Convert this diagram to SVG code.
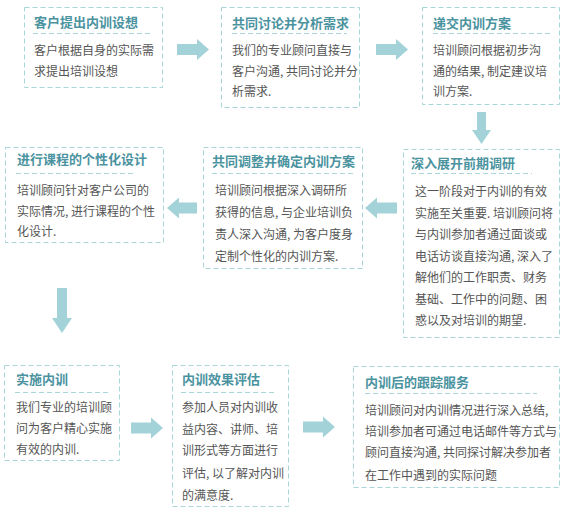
<svg xmlns="http://www.w3.org/2000/svg" width="562" height="510" viewBox="0 0 562 510">
<style>
.box{fill:#ffffff;stroke:#a9d6d8;stroke-width:1;stroke-dasharray:5 3}
.ul{stroke:#a9d6d8;stroke-width:1;stroke-dasharray:5 3;fill:none}
.t{font-family:"Noto Sans CJK SC","Noto Sans",sans-serif;font-size:13px;font-weight:bold;fill:#4b939f}
.x{font-family:"Noto Sans CJK SC","Noto Sans",sans-serif;font-size:12px;fill:#555555}
.ar{fill:#a3d3d9}
</style>
<rect width="562" height="510" fill="#ffffff"/>
<g id="n1">
<rect class="box" x="24.5" y="7.5" width="138" height="80"/>
<text class="t" x="34" y="27">客户提出内训设想</text>
<line class="ul" x1="33" y1="33.5" x2="150" y2="33.5"/>
<text class="x" x="34" y="54.5">客户根据自身的实际需</text>
<text class="x" x="34" y="75.5">求提出培训设想</text>
</g>
<g id="n2">
<rect class="box" x="221.5" y="7.5" width="138" height="100"/>
<text class="t" x="232" y="28">共同讨论并分析需求</text>
<line class="ul" x1="232" y1="33.5" x2="347" y2="33.5"/>
<text class="x" x="232" y="54.5">我们的专业顾问直接与</text>
<text class="x" x="232" y="75.5">客户沟通, 共同讨论并分</text>
<text class="x" x="232" y="96">析需求.</text>
</g>
<g id="n3">
<rect class="box" x="422.5" y="7.5" width="137" height="97"/>
<text class="t" x="433" y="28">递交内训方案</text>
<line class="ul" x1="433" y1="33.5" x2="550" y2="33.5"/>
<text class="x" x="433" y="54.5">培训顾问根据初步沟</text>
<text class="x" x="433" y="75.5">通的结果, 制定建议培</text>
<text class="x" x="433" y="96">训方案.</text>
</g>
<g id="n6">
<rect class="box" x="403.5" y="149.5" width="156" height="188"/>
<text class="t" x="411" y="168">深入展开前期调研</text>
<line class="ul" x1="411" y1="173.5" x2="532" y2="173.5"/>
<text class="x" x="415" y="196">这一阶段对于内训的有效</text>
<text class="x" x="415" y="217.5">实施至关重要. 培训顾问将</text>
<text class="x" x="415" y="239">与内训参加者通过面谈或</text>
<text class="x" x="415" y="260.5">电话访谈直接沟通, 深入了</text>
<text class="x" x="415" y="282">解他们的工作职责、财务</text>
<text class="x" x="415" y="303.5">基础、工作中的问题、困</text>
<text class="x" x="415" y="325">惑以及对培训的期望.</text>
</g>
<g id="n5">
<rect class="box" x="203.5" y="147.5" width="159" height="121"/>
<text class="t" x="212" y="166">共同调整并确定内训方案</text>
<line class="ul" x1="212" y1="173.5" x2="353" y2="173.5"/>
<text class="x" x="215" y="194.5">培训顾问根据深入调研所</text>
<text class="x" x="215" y="216.5">获得的信息, 与企业培训负</text>
<text class="x" x="215" y="238.5">责人深入沟通, 为客户度身</text>
<text class="x" x="215" y="260.5">定制个性化的内训方案.</text>
</g>
<g id="n4">
<rect class="box" x="5.5" y="147.5" width="158" height="95"/>
<text class="t" x="17" y="164">进行课程的个性化设计</text>
<line class="ul" x1="16" y1="173.5" x2="134" y2="173.5"/>
<text class="x" x="17" y="194.5">培训顾问针对客户公司的</text>
<text class="x" x="17" y="215.5">实际情况, 进行课程的个性</text>
<text class="x" x="17" y="236">化设计.</text>
</g>
<g id="n7">
<rect class="box" x="4.5" y="365.5" width="115" height="95"/>
<text class="t" x="16" y="384">实施内训</text>
<line class="ul" x1="15" y1="392.5" x2="110" y2="392.5"/>
<text class="x" x="16" y="411.5">我们专业的培训顾</text>
<text class="x" x="16" y="432.5">问为客户精心实施</text>
<text class="x" x="16" y="454">有效的内训.</text>
</g>
<g id="n8">
<rect class="box" x="172.5" y="365.5" width="116" height="141"/>
<text class="t" x="182" y="384">内训效果评估</text>
<line class="ul" x1="181" y1="392.5" x2="277" y2="392.5"/>
<text class="x" x="182" y="411.5">参加人员对内训收</text>
<text class="x" x="182" y="434">益内容、讲师、培</text>
<text class="x" x="182" y="455">训形式等方面进行</text>
<text class="x" x="182" y="477.5">评估, 以了解对内训</text>
<text class="x" x="182" y="499.5">的满意度.</text>
</g>
<g id="n9">
<rect class="box" x="353.5" y="366.5" width="206" height="121"/>
<text class="t" x="365" y="387">内训后的跟踪服务</text>
<line class="ul" x1="365" y1="393.5" x2="537" y2="393.5"/>
<text class="x" x="365" y="414.5">培训顾问对内训情况进行深入总结,</text>
<text class="x" x="365" y="435.5">培训参加者可通过电话邮件等方式与</text>
<text class="x" x="365" y="456.5">顾问直接沟通, 共同探讨解决参加者</text>
<text class="x" x="365" y="479.5">在工作中遇到的实际问题</text>
</g>
<g id="connectors">
<polygon class="ar" points="177,44 197,44 197,39 209,49.5 197,60 197,55 177,55"/>
<polygon class="ar" points="376,44 396,44 396,39 408,49.5 396,60 396,55 376,55"/>
<polygon class="ar" points="477,112 486,112 486,130 491,130 481.5,144 472,130 477,130"/>
<polygon class="ar" points="397,202.5 377,202.5 377,197.5 365,208 377,218.5 377,213.5 397,213.5"/>
<polygon class="ar" points="197,202.5 179,202.5 179,197.5 167,208 179,218.5 179,213.5 197,213.5"/>
<polygon class="ar" points="57,288 67,288 67,318 72,318 62,333 52,318 57,318"/>
<polygon class="ar" points="131,422.5 151,422.5 151,417.5 163,428 151,438.5 151,433.5 131,433.5"/>
<polygon class="ar" points="303,421.5 323,421.5 323,416.5 335,427 323,437.5 323,432.5 303,432.5"/>
</g>
</svg>
